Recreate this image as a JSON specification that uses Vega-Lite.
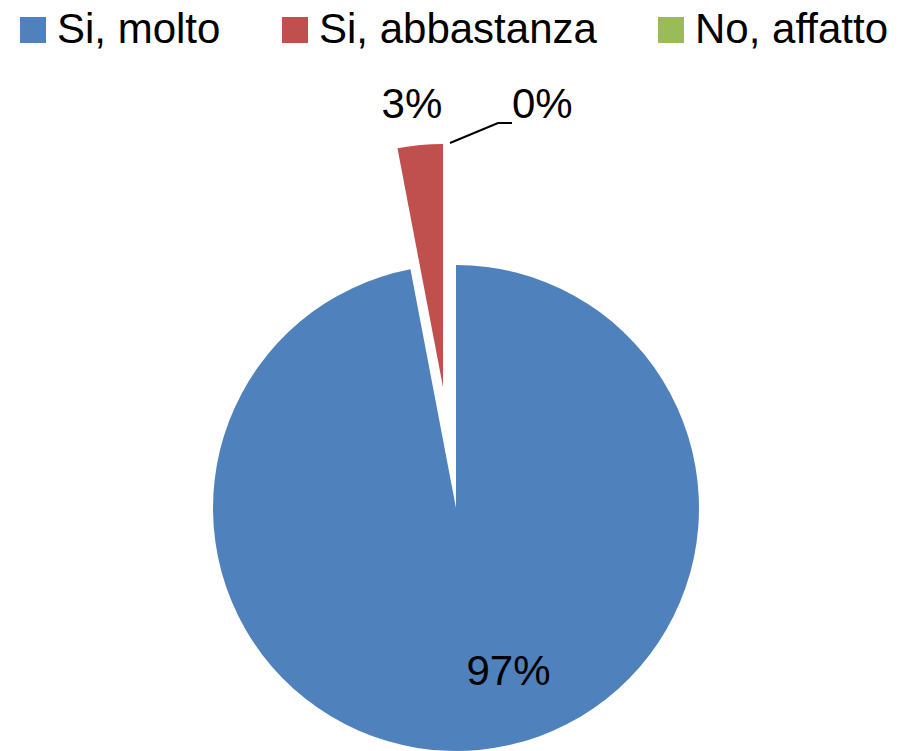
{
  "$schema": "https://vega.github.io/schema/vega-lite/v6.json",
  "width": 912,
  "height": 1016,
  "padding": 0,
  "autosize": {"type": "none"},
  "background": "white",
  "config": {"view": {"stroke": null}, "font": "Liberation Sans"},
  "datasets": {
    "slices": [
      {"cat": "Si, molto", "value": 97, "idx": 1, "label": "97%"},
      {"cat": "Si, abbastanza", "value": 3, "idx": 2, "label": "3%"},
      {"cat": "No, affatto", "value": 0, "idx": 3, "label": "0%"}
    ],
    "leader": [
      {"px": -0.0247, "py": 1.502, "k": 1},
      {"px": 0.1728, "py": 1.584, "k": 2},
      {"px": 0.2305, "py": 1.584, "k": 3}
    ]
  },
  "layer": [
    {
      "data": {"name": "slices"},
      "mark": {"type": "arc", "radius": 243},
      "encoding": {
        "theta": {"field": "value", "type": "quantitative", "stack": true},
        "order": {"field": "idx", "type": "quantitative"},
        "color": {
          "field": "cat",
          "type": "nominal",
          "scale": {"domain": ["Si, molto", "Si, abbastanza", "No, affatto"], "range": ["#4F81BD", "#C0504D", "#9BBB59"]},
          "legend": {
            "title": null,
            "orient": "none",
            "legendX": 12,
            "legendY": 9,
            "direction": "horizontal",
            "symbolType": "square",
            "symbolSize": 676,
            "symbolStrokeWidth": 0,
            "labelFontSize": 42,
            "labelFont": "Liberation Sans",
            "labelColor": "black",
            "labelOffset": 3,
            "columnPadding": 53,
            "padding": 0,
            "labelLimit": 400
          }
        },
        "fillOpacity": {"condition": {"test": "datum.cat === 'Si, abbastanza'", "value": 0}, "value": 1}
      }
    },
    {
      "data": {"name": "slices"},
      "mark": {"type": "arc", "radius": 243, "xOffset": -13, "yOffset": -121},
      "encoding": {
        "theta": {"field": "value", "type": "quantitative", "stack": true},
        "order": {"field": "idx", "type": "quantitative"},
        "color": {"field": "cat", "type": "nominal"},
        "fillOpacity": {"condition": {"test": "datum.cat === 'Si, abbastanza'", "value": 1}, "value": 0}
      }
    },
    {
      "data": {"name": "slices"},
      "mark": {"type": "text", "radius": 165, "dx": 37, "fontSize": 42, "align": "center", "baseline": "middle", "color": "black"},
      "encoding": {
        "theta": {"field": "value", "type": "quantitative", "stack": true},
        "order": {"field": "idx", "type": "quantitative"},
        "detail": {"field": "cat", "type": "nominal"},
        "text": {"field": "label"},
        "opacity": {"condition": {"test": "datum.cat === 'Si, molto'", "value": 1}, "value": 0}
      }
    },
    {
      "data": {"name": "slices"},
      "mark": {"type": "text", "radius": 405, "dx": -6, "fontSize": 42, "align": "center", "baseline": "middle", "color": "black"},
      "encoding": {
        "theta": {"field": "value", "type": "quantitative", "stack": true},
        "order": {"field": "idx", "type": "quantitative"},
        "detail": {"field": "cat", "type": "nominal"},
        "text": {"field": "label"},
        "opacity": {"condition": {"test": "datum.cat === 'Si, abbastanza'", "value": 1}, "value": 0}
      }
    },
    {
      "data": {"name": "slices"},
      "mark": {"type": "text", "radius": 403, "dx": 56, "fontSize": 42, "align": "left", "baseline": "middle", "color": "black"},
      "encoding": {
        "theta": {"field": "value", "type": "quantitative", "stack": true},
        "order": {"field": "idx", "type": "quantitative"},
        "detail": {"field": "cat", "type": "nominal"},
        "text": {"field": "label"},
        "opacity": {"condition": {"test": "datum.cat === 'No, affatto'", "value": 1}, "value": 0}
      }
    },
    {
      "data": {"name": "leader"},
      "mark": {"type": "line", "color": "black", "strokeWidth": 2},
      "encoding": {
        "x": {"field": "px", "type": "quantitative", "scale": {"domain": [-1.8765, 1.8765], "nice": false, "zero": false}, "axis": null},
        "y": {"field": "py", "type": "quantitative", "scale": {"domain": [-2.0905, 2.0905], "nice": false, "zero": false}, "axis": null},
        "order": {"field": "k", "type": "quantitative"}
      }
    }
  ]
}
